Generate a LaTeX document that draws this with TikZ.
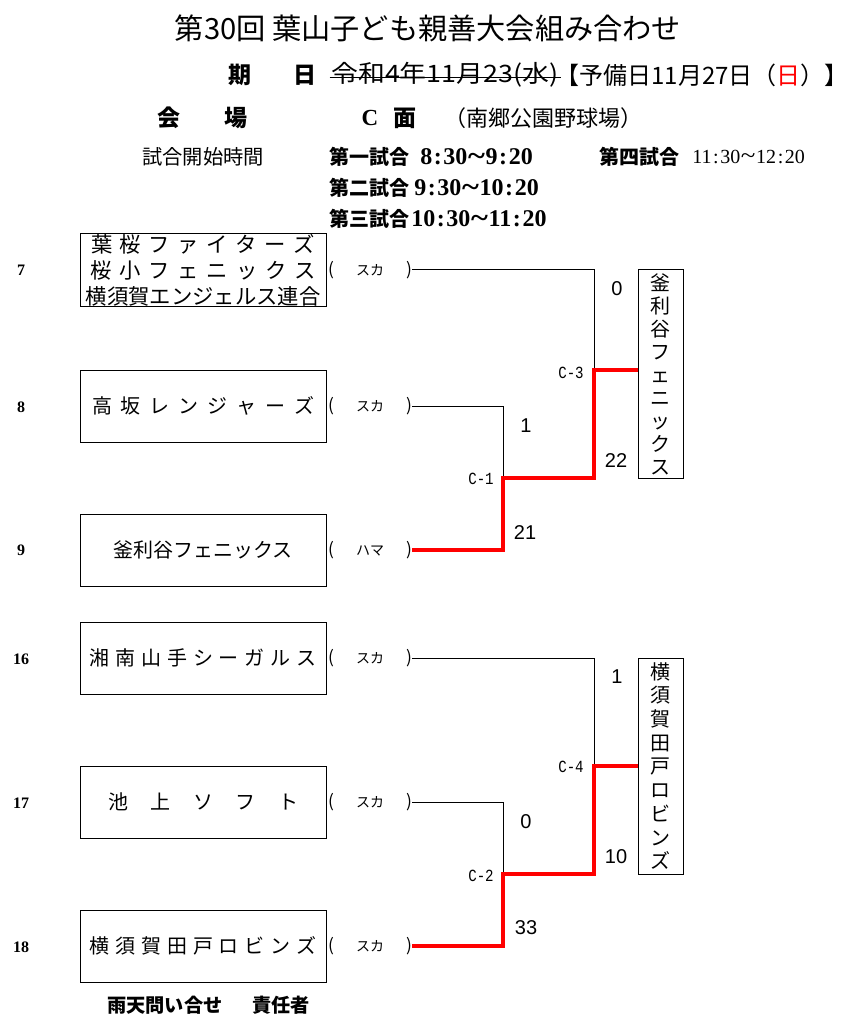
\documentclass[tikz,border=0pt]{standalone}
\usepackage{fontspec}
\usepackage{graphicx}
\setmainfont{Noto Sans CJK JP}
\newfontfamily\ser{Liberation Serif}
\newfontfamily\ari{Liberation Sans}
\newfontfamily\mon{Liberation Mono}
\newdimen\px \px=0.75pt
\newcommand\spr[2]{\makebox[#1\px][s]{#2}}
\newcommand\cln{\hspace{1.2pt}:\hspace{1.2pt}}
\newcommand\tld{\hspace{0.5pt}\raisebox{-0.5pt}{\scalebox{1.35}[1.2]{\symbol{126}}}\hspace{0.5pt}}
\newcommand\clab[1]{\scalebox{0.83}[1]{#1}}
\newcommand\bp[1]{{\fontsize{13}{14}\selectfont#1}}
\newcommand\prf[1]{\spr{84}{\bp{(} #1 \bp{)}}}
\begin{document}
\begin{tikzpicture}[x=0.75pt,y=-0.75pt,
  lbl/.style={inner sep=0pt},
  hb/.style={inner sep=0pt,font=\fontsize{17.25}{20}\selectfont\bfseries},
  gm/.style={anchor=west,inner sep=0pt,font=\fontsize{15}{18}\selectfont\bfseries},
  tm/.style={anchor=west,inner sep=0pt,font=\ser\fontsize{18}{20}\selectfont\bfseries},
  tmr/.style={anchor=west,inner sep=0pt,font=\ser\fontsize{15}{18}\selectfont},
  seed/.style={inner sep=0pt,font=\ser\fontsize{12}{14}\selectfont\bfseries},
  team/.style={draw,line width=0.75pt,minimum width=184.5pt,minimum height=54pt,inner sep=0pt,align=center,font=\fontsize{15}{18}\selectfont},
  pref/.style={inner sep=0pt,font=\fontsize{10.5}{12}\selectfont},
  wbox/.style={draw,line width=0.75pt,minimum width=33.75pt,inner sep=0pt,align=center},
  sc/.style={inner sep=0pt,font=\ari\fontsize{15}{18}\selectfont},
  cl/.style={inner sep=0pt,font=\mon\fontsize{12.75}{14}\selectfont},
  link/.style={line width=0.75pt},
  win/.style={line width=2.4pt,red}
]
\useasboundingbox (0,0) rectangle (864,1023);

% ---- header ----
\node[lbl,font=\fontsize{21.9}{26}\selectfont] (title) at (428,28) {第30回 葉山子ども親善大会組み合わせ};

\node[hb] (ki) at (240,75) {期};
\node[hb] (hi) at (305,75) {日};
\node[lbl,anchor=west,font=\fontsize{18}{20}\selectfont] (d1) at (331,75) {\scalebox{1.12}[1]{令和4年11月23(水)}};
\draw[link] ([xshift=-1pt,yshift=-2.25pt]d1.west) -- ([xshift=2pt,yshift=-2.25pt]d1.east);
\node[lbl,anchor=east,font=\fontsize{18}{20}\selectfont] (d2) at (849,75) {【予備日11月27日（\textcolor{red}{日}）】};

\node[hb] (kai) at (169,118) {会};
\node[hb] (jo) at (236,118) {場};
\node[lbl,font=\ser\fontsize{17.25}{20}\selectfont\bfseries] (cc) at (370,118) {C};
\node[hb] (men) at (405,118) {面};
\node[lbl,font=\fontsize{16.5}{20}\selectfont] (park) at (543,118) {（南郷公園野球場）};

\node[lbl,anchor=west,font=\fontsize{15.2}{18}\selectfont] (st) at (142,157) {試合開始時間};
\node[gm] (g1) at (329,157) {第一試合};
\node[tm] (t1) at (420,157) {8\cln 30\tld 9\cln 20};
\node[gm] (g2) at (329,188) {第二試合};
\node[tm] (t2) at (414,188) {9\cln 30\tld 10\cln 20};
\node[gm] (g3) at (329,219) {第三試合};
\node[tm] (t3) at (411,219) {10\cln 30\tld 11\cln 20};
\node[gm] (g4) at (599,157) {第四試合};
\node[tmr] (t4) at (692,157) {11\cln 30\tld 12\cln 20};

% ---- seeds ----
\node[seed] (s7) at (21,270) {7};
\node[seed] (s8) at (21,407) {8};
\node[seed] (s9) at (21,550) {9};
\node[seed] (s16) at (21,659) {16};
\node[seed] (s17) at (21,803) {17};
\node[seed] (s18) at (21,947) {18};

% ---- teams ----
\node[team,font=\fontsize{16}{19.5}\selectfont] (b7) at (203,270) {\spr{224}{葉 桜 フ ァ イ タ ー ズ}\\\spr{226}{桜 小 フ ェ ニ ッ ク ス}\\横須賀エンジェルス連合};
\node[team] (b8) at (203,406) {\spr{222}{高 坂 レ ン ジ ャ ー ズ}};
\node[team] (b9) at (203,550) {釜利谷フェニックス};
\node[team] (b16) at (203,658) {\spr{227}{湘 南 山 手 シ ー ガ ル ス}};
\node[team] (b17) at (203,802) {\spr{190}{池 上 ソ フ ト}};
\node[team] (b18) at (203,946) {\spr{227}{横 須 賀 田 戸 ロ ビ ン ズ}};

\node[pref] (p7) at (370,270) {\prf{スカ}};
\node[pref] (p8) at (370,406) {\prf{スカ}};
\node[pref] (p9) at (370,550) {\prf{ハマ}};
\node[pref] (p16) at (370,658) {\prf{スカ}};
\node[pref] (p17) at (370,802) {\prf{スカ}};
\node[pref] (p18) at (370,946) {\prf{スカ}};

% ---- winners ----
\node[wbox,minimum height=156pt,font=\fontsize{15}{17.25}\selectfont] (w1) at (660.5,374) {釜\\利\\谷\\フ\\ェ\\ニ\\ッ\\ク\\ス};
\node[wbox,minimum height=162pt,font=\fontsize{15}{17.8}\selectfont] (w2) at (660.5,766) {横\\須\\賀\\田\\戸\\ロ\\ビ\\ン\\ズ};

% ---- junctions ----
\coordinate (c1) at (503,478);
\coordinate (c3) at (594,370);
\coordinate (c2) at (503,874);
\coordinate (c4) at (594,766);

\draw[link] (p7.east) -| (c3);
\draw[link] (p8.east) -| (c1);
\draw[win] (p9.east) -| (c1) -| (c3) -- (w1.west |- c3);

\draw[link] (p16.east) -| (c4);
\draw[link] (p17.east) -| (c2);
\draw[win] (p18.east) -| (c2) -| (c4) -- (w2.west |- c4);

% ---- labels ----
\node[cl] (l3) at (571,373) {\clab{C-3}};
\node[cl] (l1) at (481,479) {\clab{C-1}};
\node[cl] (l4) at (571,767) {\clab{C-4}};
\node[cl] (l2) at (481,876) {\clab{C-2}};

\node[sc] (r1) at (617,289) {0};
\node[sc] (r2) at (526,426) {1};
\node[sc] (r3) at (616,461) {22};
\node[sc] (r4) at (525,533) {21};
\node[sc] (r5) at (617,677) {1};
\node[sc] (r6) at (526,822) {0};
\node[sc] (r7) at (616,857) {10};
\node[sc] (r8) at (526,928) {33};

% ---- footer ----
\node[lbl,anchor=west,font=\fontsize{14.4}{17}\selectfont\bfseries] (rain) at (107,1005) {雨天問い合せ\hspace{22.5pt}責任者};
\end{tikzpicture}
\end{document}
